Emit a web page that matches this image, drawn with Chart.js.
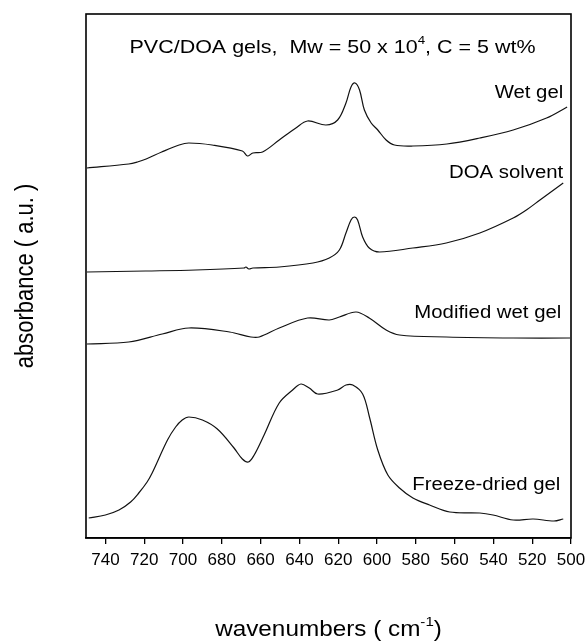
<!DOCTYPE html>
<html>
<head>
<meta charset="utf-8">
<script src="https://cdn.jsdelivr.net/npm/chart.js@4.4.1/dist/chart.umd.min.js"></script>
<style>
  html, body { margin: 0; padding: 0; background: #fff; }
  #wrap { width: 586px; height: 641px; }
</style>
</head>
<body>
<div id="wrap"><canvas id="chart"></canvas></div>
<script>
// spectra (wavenumber in cm-1, absorbance in arbitrary offset units)
var wnWet = [749.5, 728, 723.5, 719, 711, 702, 697, 685, 669.4, 666.8, 664, 659, 650.4, 641.8, 635.8, 626.3, 620.3, 616, 613.4, 611.3, 609, 606.5, 603, 599.6, 595.3, 591, 581.5, 564, 547, 529.8, 512.6, 502];
var absWet = [3.70, 3.74, 3.76, 3.79, 3.86, 3.93, 3.95, 3.93, 3.87, 3.82, 3.85, 3.86, 3.98, 4.10, 4.17, 4.13, 4.18, 4.35, 4.51, 4.55, 4.48, 4.28, 4.15, 4.08, 3.98, 3.93, 3.92, 3.94, 4.00, 4.08, 4.20, 4.31];

var wnDoa = [749.5, 719.3, 693.5, 668.5, 667.6, 666, 664, 650.4, 633, 624.6, 619.4, 616, 613.4, 611.7, 610, 607.4, 604, 598.7, 581.5, 564.3, 547, 529.8, 523, 516, 504];
var absDoa = [2.66, 2.67, 2.68, 2.70, 2.71, 2.69, 2.70, 2.71, 2.75, 2.80, 2.88, 3.05, 3.18, 3.21, 3.18, 3.01, 2.90, 2.86, 2.90, 2.95, 3.05, 3.20, 3.28, 3.38, 3.55];

var wnMod = [749.5, 728, 710.7, 697, 676, 665, 660.7, 650.4, 635.8, 624.6, 619.4, 610.8, 604, 595.3, 588.4, 564.3, 529.8, 500.5];
var absMod = [1.94, 1.96, 2.04, 2.10, 2.06, 2.01, 2.01, 2.10, 2.20, 2.18, 2.21, 2.26, 2.20, 2.08, 2.03, 2.01, 2.00, 2.00];

var wnFd = [748.6, 740, 733, 727, 722.8, 718.5, 715.9, 708, 703.8, 700.4, 697, 690, 682.3, 673.7, 669.4, 666.3, 663.3, 658.2, 650.4, 643.5, 639.2, 634.9, 630.6, 620.3, 616, 612.5, 607.4, 603.9, 599.6, 594.4, 588.4, 581.5, 572.9, 562.5, 547, 540.2, 529.8, 519.5, 508.8, 504];
var absFd = [0.20, 0.23, 0.28, 0.36, 0.45, 0.56, 0.65, 0.98, 1.11, 1.18, 1.21, 1.18, 1.09, 0.90, 0.79, 0.76, 0.83, 1.03, 1.35, 1.48, 1.54, 1.50, 1.44, 1.48, 1.53, 1.53, 1.44, 1.21, 0.88, 0.63, 0.50, 0.40, 0.33, 0.26, 0.25, 0.23, 0.18, 0.19, 0.17, 0.19];

// curve labels, anchored (right edge, baseline) in data units
var labelText = ["Wet gel", "DOA solvent", "Modified wet gel", "Freeze-dried gel"];
var labelWn = [504, 504, 505, 505.5];
var labelAbs = [4.40, 3.60, 2.20, 0.48];

var xMin = 500, xMax = 750, xStep = 20;
var yMin = 0, yMax = 5.24;

function pts(xs, ys) {
  return xs.map(function (x, i) { return { x: x, y: ys[i] }; });
}

var FONT = '"Liberation Sans", Arial, Helvetica, sans-serif';
var SX = 1.13; // the scanned figure is a bit wide

// draw text made of parts, some of them superscripts
function richWidth(ctx, parts, size) {
  var w = 0;
  parts.forEach(function (p) {
    ctx.font = (p.sup ? size * 0.62 : size) + "px " + FONT;
    w += ctx.measureText(p.t).width;
  });
  return w;
}
function drawRich(ctx, parts, size, x, y, align) {
  ctx.save();
  ctx.translate(x, y);
  ctx.scale(SX, 1);
  var w = richWidth(ctx, parts, size);
  var cx = align === "center" ? -w / 2 : align === "right" ? -w : 0;
  ctx.textAlign = "left";
  ctx.textBaseline = "alphabetic";
  parts.forEach(function (p) {
    ctx.font = (p.sup ? size * 0.62 : size) + "px " + FONT;
    ctx.fillText(p.t, cx, p.sup ? -size * 0.45 : 0);
    cx += ctx.measureText(p.t).width;
  });
  ctx.restore();
}

var decor = {
  id: "decor",
  afterDraw: function (chart) {
    var ctx = chart.ctx, a = chart.chartArea;
    var xs = chart.scales.x, ys = chart.scales.y;
    ctx.save();
    ctx.strokeStyle = "#000";
    ctx.lineWidth = 1.6;
    ctx.strokeRect(a.left, a.top, a.right - a.left, a.bottom - a.top);
    ctx.fillStyle = "#000";

    drawRich(ctx, [{ t: "PVC/DOA gels,  Mw = 50 x 10" }, { t: "4", sup: true }, { t: ", C = 5 wt%" }],
      19, (a.left + a.right) / 2 + 4, ys.getPixelForValue(4.85), "center");

    for (var i = 0; i < labelText.length; i++) {
      drawRich(ctx, [{ t: labelText[i] }], 18, xs.getPixelForValue(labelWn[i]), ys.getPixelForValue(labelAbs[i]), "right");
    }

    drawRich(ctx, [{ t: "wavenumbers ( cm" }, { t: "-1", sup: true }, { t: ")" }],
      21.5, (a.left + a.right) / 2, 636, "center");

    ctx.translate(33, (a.top + a.bottom) / 2);
    ctx.rotate(-Math.PI / 2);
    ctx.font = "22px " + FONT;
    ctx.textAlign = "center";
    ctx.textBaseline = "alphabetic";
    ctx.save();
    ctx.scale(1, SX);
    ctx.fillText("absorbance ( a.u. )", 0, 0);
    ctx.restore();
    ctx.restore();
  }
};

function ds(data) {
  return {
    data: data,
    borderColor: "#111",
    borderWidth: 1.2,
    pointRadius: 0,
    tension: 0.35,
    fill: false
  };
}

new Chart(document.getElementById("chart"), {
  type: "line",
  data: {
    datasets: [ds(pts(wnWet, absWet)), ds(pts(wnDoa, absDoa)), ds(pts(wnMod, absMod)), ds(pts(wnFd, absFd))]
  },
  options: {
    responsive: true,
    maintainAspectRatio: false,
    animation: false,
    layout: { padding: { left: 86, right: 15, top: 14, bottom: 0 } },
    plugins: { legend: { display: false }, tooltip: { enabled: false } },
    scales: {
      x: {
        type: "linear",
        reverse: true,
        min: xMin,
        max: xMax,
        afterFit: function (s) {
          s.height = 103;
          s.paddingLeft = 0;
          s.paddingRight = 0;
        },
        ticks: {
          stepSize: xStep,
          includeBounds: false,
          color: "#000",
          padding: 6,
          maxRotation: 0,
          font: { family: FONT, size: 17 }
        },
        grid: { display: true, drawOnChartArea: false, drawTicks: true, tickLength: 6, color: "#000", lineWidth: 1.3 },
        border: { display: true, color: "#000", width: 1.6 }
      },
      y: {
        display: false,
        min: yMin,
        max: yMax
      }
    }
  },
  plugins: [decor]
});
</script>
</body>
</html>
